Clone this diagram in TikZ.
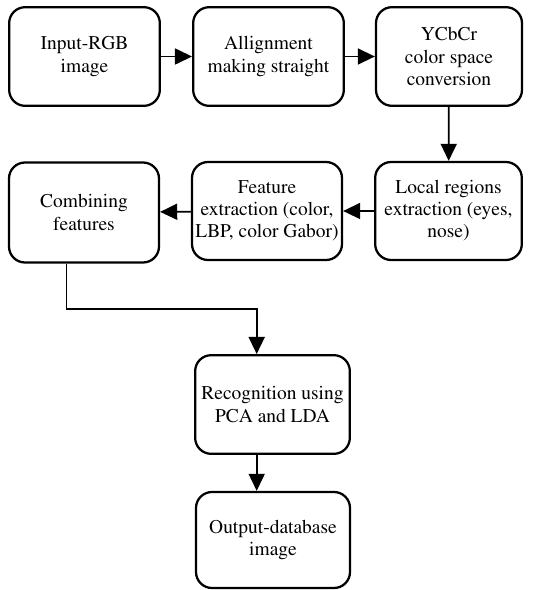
\documentclass[tikz,border=0pt]{standalone}
\usepackage[T1]{fontenc}
\renewcommand{\rmdefault}{ptm}
\usetikzlibrary{arrows.meta}

\tikzset{
  stage/.style={draw, line width=1.7pt, rounded corners=12pt, align=center,
    inner sep=0pt, font=\fontsize{14.6}{16.6}\selectfont},
  flow/.style={line width=1.3pt, -{Triangle[length=12.8pt,width=12pt]}}
}

\begin{document}
\begin{tikzpicture}[x=0.75pt,y=0.75pt,yscale=-1,xscale=1]
\useasboundingbox (0,0) rectangle (535,590);

% top row
\node[stage, minimum width=113pt, minimum height=74pt] (rgb) at (84.5,56.5) {Input-RGB\\image};
\node[stage, minimum width=113pt, minimum height=74pt] (align) at (268.5,56.5) {Allignment\\making straight};
\node[stage, minimum width=109.5pt, minimum height=74pt] (ycbcr) at (449,56.5) {YCbCr\\color space\\conversion};

% middle row
\node[stage, minimum width=110pt, minimum height=73.5pt] (local) at (448.5,211) {Local regions\\extraction (eyes,\\nose)};
\node[stage, minimum width=112.5pt, minimum height=73.5pt] (feat) at (267,211) {Feature\\extraction (color,\\LBP, color Gabor)};
\node[stage, minimum width=112.5pt, minimum height=75pt] (comb) at (84,212.5) {Combining\\features};

% bottom column
\node[stage, minimum width=116pt, minimum height=74pt] (recog) at (272.5,404.5) {Recognition using\\PCA and LDA};
\node[stage, minimum width=115.5pt, minimum height=72pt] (out) at (273,540) {Output-database\\image};

% bend points of the elbow
\coordinate (down) at (66.5,309);
\coordinate (right) at (256.7,309);

\draw[flow] (rgb) -- (align);
\draw[flow] (align) -- (ycbcr);
\draw[flow] (ycbcr) -- (local);
\draw[flow] (local) -- (feat);
\draw[flow] (feat) -- (comb);
\draw[flow] (down |- comb.south) -- (down) -- (right) -- (right |- recog.north);
\draw[flow] (right |- recog.south) -- (right |- out.north);

\end{tikzpicture}
\end{document}
